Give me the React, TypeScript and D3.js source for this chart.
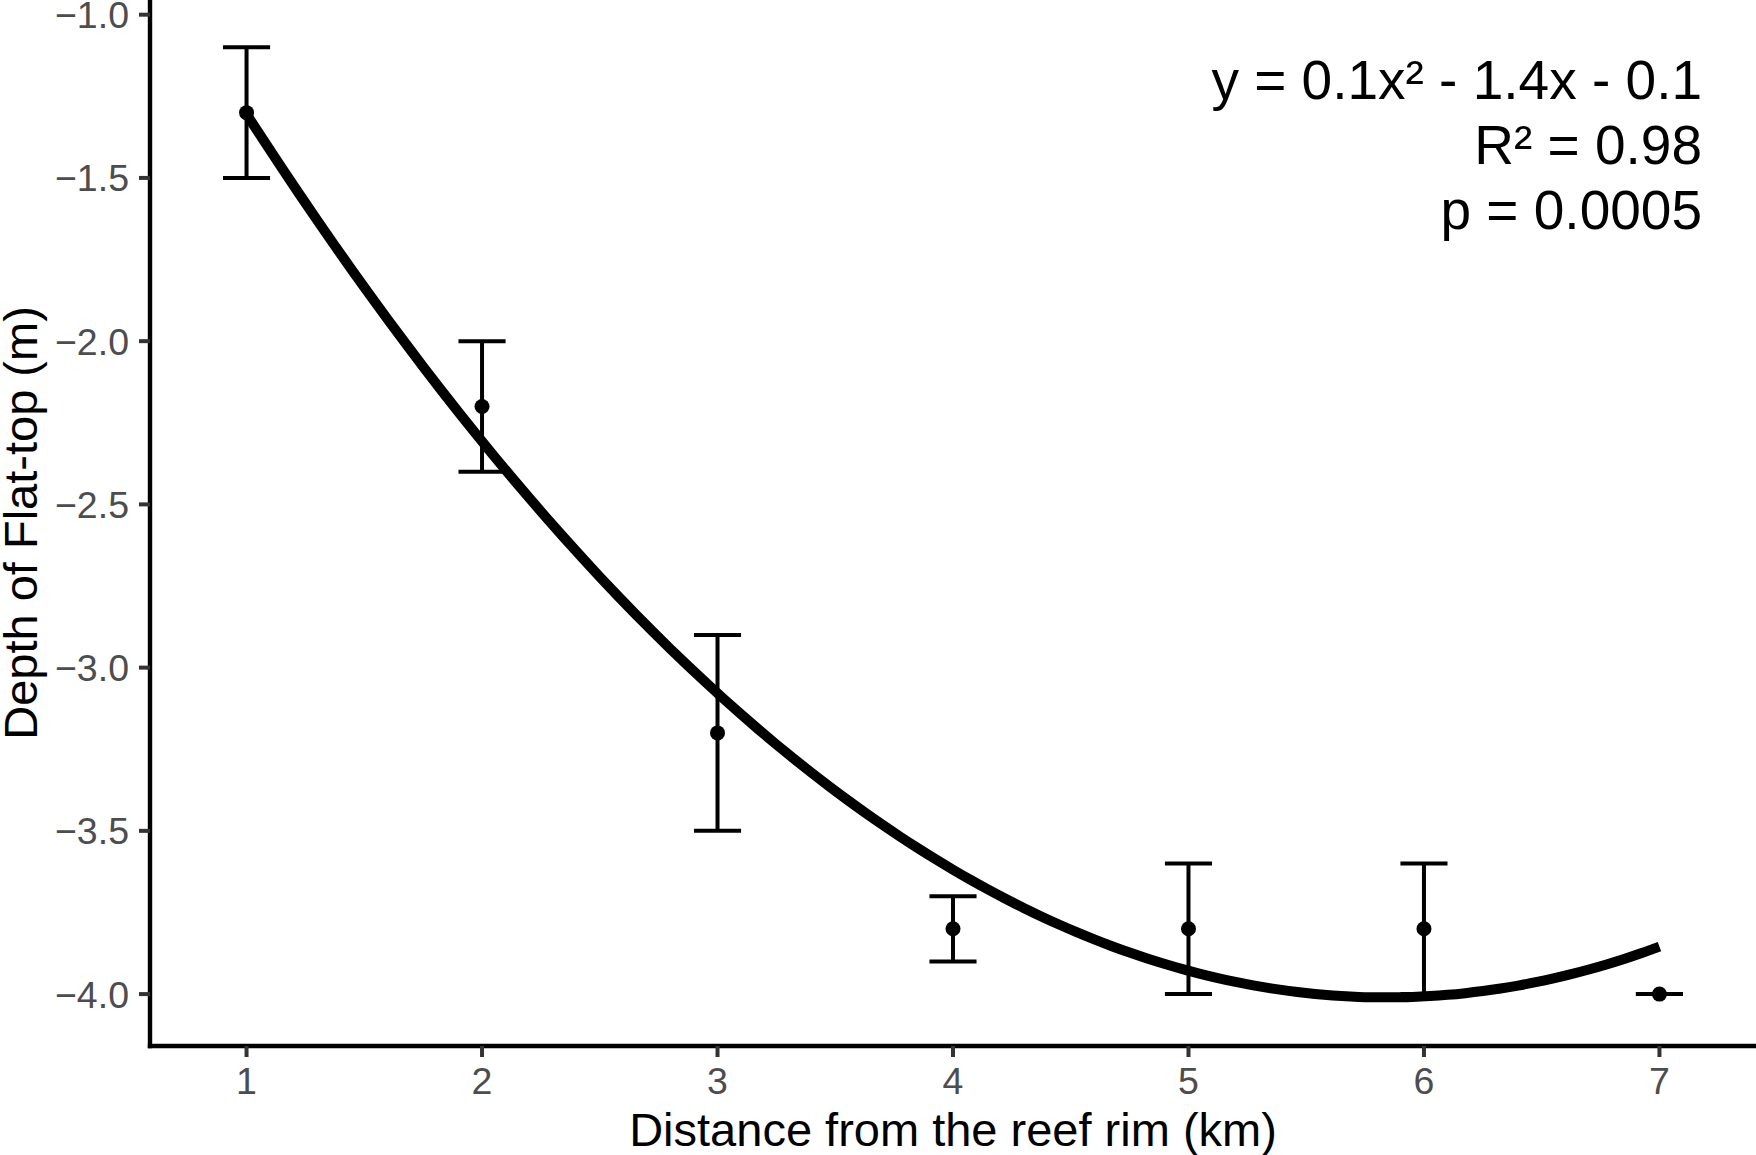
import { useMemo } from 'react';
import * as d3 from 'd3';

// Data
const distances = [1, 2, 3, 4, 5, 6, 7];
const meanDepth = [-1.3, -2.2, -3.2, -3.8, -3.8, -3.8, -4.0];
const upperDepth = [-1.1, -2.0, -2.9, -3.7, -3.6, -3.6, -4.0];
const lowerDepth = [-1.5, -2.4, -3.5, -3.9, -4.0, -4.0, -4.0];

const xTicks = [1, 2, 3, 4, 5, 6, 7];
const yTicks = [-1.0, -1.5, -2.0, -2.5, -3.0, -3.5, -4.0];

const annotationLines = ['y = 0.1x² - 1.4x - 0.1', 'R² = 0.98', 'p = 0.0005'];

const WIDTH = 1756;
const HEIGHT = 1155;
const FONT = '"Liberation Sans", Arial, Helvetica, sans-serif';

// quadratic least squares, same as the smoother in the original plot
function fitQuadratic(xs: number[], ys: number[]) {
    const mx = d3.mean(xs)!;
    const my = d3.mean(ys)!;
    const u = xs.map(x => x - mx);
    const mu2 = d3.mean(u.map(v => v * v))!;
    const q = u.map(v => v * v - mu2);
    const b = d3.sum(u.map((v, i) => v * ys[i])) / d3.sum(u.map(v => v * v));
    const g = d3.sum(q.map((v, i) => v * ys[i])) / d3.sum(q.map(v => v * v));
    return (x: number) => my + b * (x - mx) + g * ((x - mx) * (x - mx) - mu2);
}

export default function App() {
    const margin = { top: 0, right: 0, bottom: 109, left: 150 };

    const x = d3.scaleLinear()
        .domain([0.59, 7.41])
        .range([margin.left, WIDTH - margin.right]);
    const y = d3.scaleLinear()
        .domain([-4.159, -0.955])
        .range([HEIGHT - margin.bottom, margin.top]);

    const curvePath = useMemo(() => {
        const f = fitQuadratic(distances, meanDepth);
        const pts = d3.range(0, 81).map(i => 1 + (i * 6) / 80);
        return d3.line<number>()
            .x(d => x(d))
            .y(d => y(f(d)))
            .curve(d3.curveMonotoneX)(pts);
    }, []);

    const capHalf = 0.1;
    const x0 = margin.left;
    const y0 = HEIGHT - margin.bottom;
    const panelMidX = (margin.left + WIDTH - margin.right) / 2;
    const panelMidY = (margin.top + y0) / 2;

    return (
        <svg width={WIDTH} height={HEIGHT} style={{ position: 'absolute', left: 0, top: 0, background: '#fff' }}
            fontFamily={FONT}>
            <rect x={0} y={0} width={WIDTH} height={HEIGHT} fill="#fff" />

            {/* error bars */}
            {distances.map((d, i) => (
                <g key={'eb' + d} stroke="#000" strokeWidth={4} fill="none">
                    <line x1={x(d)} x2={x(d)} y1={y(upperDepth[i])} y2={y(lowerDepth[i])} />
                    <line x1={x(d - capHalf)} x2={x(d + capHalf)} y1={y(upperDepth[i])} y2={y(upperDepth[i])} />
                    <line x1={x(d - capHalf)} x2={x(d + capHalf)} y1={y(lowerDepth[i])} y2={y(lowerDepth[i])} />
                </g>
            ))}

            {/* fitted curve */}
            <path d={curvePath || ''} fill="none" stroke="#000" strokeWidth={10} />

            {/* means */}
            {distances.map((d, i) => (
                <circle key={'pt' + d} cx={x(d)} cy={y(meanDepth[i])} r={7.5} fill="#000" />
            ))}

            {/* axes */}
            <line x1={x0} x2={x0} y1={0} y2={y0 + 2.2} stroke="#000" strokeWidth={4.4} />
            <line x1={x0 - 2.2} x2={WIDTH} y1={y0} y2={y0} stroke="#000" strokeWidth={4.4} />

            {yTicks.map(t => (
                <g key={'yt' + t}>
                    <line x1={x0 - 11} x2={x0} y1={y(t)} y2={y(t)} stroke="#333" strokeWidth={4} />
                    <text x={x0 - 21} y={y(t)} dy="0.36em" textAnchor="end" fontSize={37.5} fill="#4d4d4d">
                        {d3.format('.1f')(t).replace('-', '\u2212')}
                    </text>
                </g>
            ))}

            {xTicks.map(t => (
                <g key={'xt' + t}>
                    <line x1={x(t)} x2={x(t)} y1={y0} y2={y0 + 11} stroke="#333" strokeWidth={4} />
                    <text x={x(t)} y={y0 + 48} textAnchor="middle" fontSize={37.5} fill="#4d4d4d">
                        {t}
                    </text>
                </g>
            ))}

            {/* axis titles */}
            <text x={panelMidX} y={1146} textAnchor="middle" fontSize={47} fill="#000">
                Distance from the reef rim (km)
            </text>
            <text transform={`translate(37, ${panelMidY}) rotate(-90)`} textAnchor="middle" fontSize={47} fill="#000">
                Depth of Flat-top (m)
            </text>

            {/* fit annotation */}
            {annotationLines.map((s, i) => (
                <text key={s} x={1702} y={99 + i * 65} textAnchor="end" fontSize={55} fill="#000">
                    {s}
                </text>
            ))}
        </svg>
    );
}
